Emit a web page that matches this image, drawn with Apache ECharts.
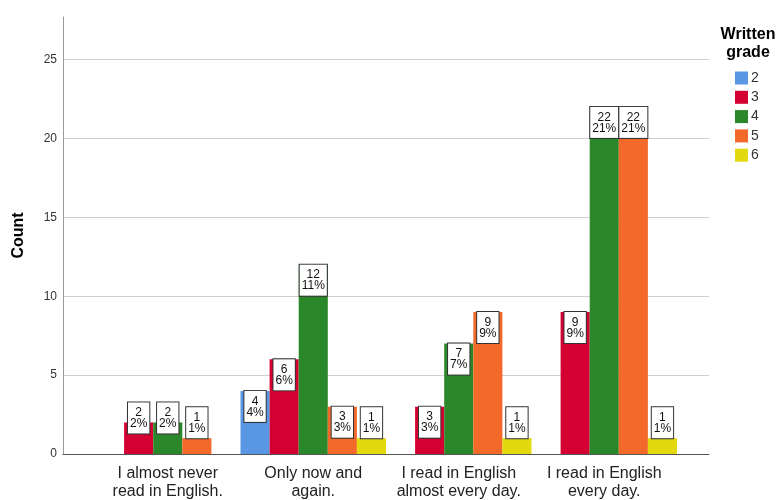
<!DOCTYPE html>
<html>
<head>
<meta charset="utf-8">
<script src="https://cdn.jsdelivr.net/npm/echarts@6/dist/echarts.min.js"></script>
<style>html,body{margin:0;padding:0;background:#fff}#c{width:779px;height:500px}</style>
</head>
<body>
<div id="c"></div>
<script>
const categories = ['I almost never\nread in English.', 'Only now and\nagain.', 'I read in English\nalmost every day.', 'I read in English\nevery day.'];
const grades = ['2', '3', '4', '5', '6'];
const grade2 = [null, 4, null, null];
const grade3 = [2, 6, 3, 9];
const grade4 = [2, 12, 7, 22];
const grade5 = [1, 3, 9, 22];
const grade6 = [null, 1, 1, 1];
const yTicks = [0, 5, 10, 15, 20, 25];
const yMax = 27.7;
const colors = ['#5797e3', '#d50032', '#2a872a', '#f2692a', '#e3d90f'];

const allSeries = [grade2, grade3, grade4, grade5, grade6];
const total = allSeries.flat().reduce((a, v) => a + (v || 0), 0);

function labelFor(v) {
  const base = {
    show: true,
    formatter: (p) => p.value + '\n' + Math.round(p.value / total * 100) + '%',
    fontFamily: 'Liberation Sans, Arial, sans-serif',
    fontSize: 12,
    lineHeight: 11,
    color: '#111',
    backgroundColor: '#fff',
    borderColor: '#333',
    borderWidth: 1,
    padding: [5, 2, 4, 2],
    distance: 0
  };
  if (v >= 3) return Object.assign(base, { position: 'insideTop' });
  if (v === 2) return Object.assign(base, { position: 'top', offset: [0, 11] });
  return Object.assign(base, { position: 'top' });
}

const chart = echarts.init(document.getElementById('c'), null, { renderer: 'canvas' });
chart.setOption({
  animation: false,
  color: colors,
  textStyle: { fontFamily: 'Liberation Sans, Arial, sans-serif' },
  grid: [
    { left: 63, right: 70, top: 17, bottom: 46, containLabel: false, outerBoundsMode: 'none' },
    { left: 95, right: 102, top: 17, bottom: 46, containLabel: false, outerBoundsMode: 'none' }
  ],
  legend: {
    orient: 'vertical',
    left: 735,
    top: 71,
    padding: 0,
    itemWidth: 13,
    itemHeight: 13,
    itemGap: 5.3,
    icon: 'rect',
    data: grades,
    textStyle: { fontSize: 14, color: '#333', padding: [0, 0, 0, -2] }
  },
  graphic: [{
    type: 'text',
    x: 748,
    y: 44,
    style: {
      text: 'Written\ngrade',
      font: 'bold 16px Liberation Sans, Arial, sans-serif',
      textAlign: 'center',
      textVerticalAlign: 'middle',
      lineHeight: 18,
      fill: '#000'
    }
  }],
  xAxis: [
    {
      gridIndex: 0,
      type: 'value',
      min: 0,
      max: 1,
      axisLine: { show: true, onZero: false, lineStyle: { color: '#555', width: 1 } },
      axisTick: { show: false },
      axisLabel: { show: false },
      splitLine: { show: false }
    },
    {
      gridIndex: 1,
      type: 'category',
      data: categories,
      axisLine: { show: false },
      axisTick: { show: false },
      axisLabel: { fontSize: 16, lineHeight: 18, color: '#222', margin: 11, interval: 0 }
    }
  ],
  yAxis: [
    {
      gridIndex: 0,
      type: 'value',
      min: 0,
      max: yMax,
      interval: 5,
      name: 'Count',
      nameLocation: 'middle',
      nameGap: 36,
      nameMoveOverlap: false,
      nameTextStyle: { fontSize: 16, fontWeight: 'bold', color: '#000' },
      axisLine: { show: true, lineStyle: { color: '#999' } },
      axisTick: { show: false },
      axisLabel: {
        fontSize: 12, color: '#333', margin: 6, showMaxLabel: false,
        formatter: (v) => yTicks.includes(v) ? String(v) : ''
      },
      splitLine: { show: true, showMaxLine: false, lineStyle: { color: '#cfcfcf', width: 1 } }
    },
    {
      gridIndex: 1,
      type: 'value',
      min: 0,
      max: yMax,
      interval: 5,
      show: false,
      splitLine: { show: false }
    }
  ],
  series: allSeries.map((arr, i) => ({
    name: grades[i],
    type: 'bar',
    xAxisIndex: 1,
    yAxisIndex: 1,
    barGap: '0%',
    barCategoryGap: '0%',
    data: arr.map(v => v == null ? null : { value: v, label: labelFor(v) }),
    itemStyle: { color: colors[i] }
  }))
});
</script>
</body>
</html>
